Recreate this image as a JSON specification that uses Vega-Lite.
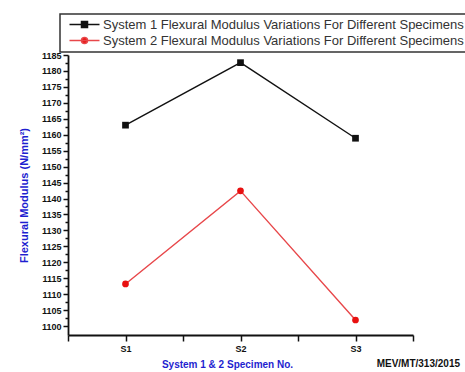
{
  "$schema": "https://vega.github.io/schema/vega-lite/v6.json",
  "width": 345,
  "height": 280,
  "autosize": "none",
  "padding": {"left": 68, "top": 55, "right": 52, "bottom": 37},
  "background": "white",
  "title": {
    "text": "MEV/MT/313/2015",
    "orient": "bottom",
    "anchor": "end",
    "frame": "group",
    "offset": -10,
    "fontSize": 10,
    "font": "Liberation Sans",
    "fontWeight": "bold",
    "color": "#111",
    "dx": 47
  },
  "data": {
    "values": [
      {"series": "System 1 Flexural Modulus Variations For Different Specimens", "specimen": 1, "modulus": 1163.0},
      {"series": "System 1 Flexural Modulus Variations For Different Specimens", "specimen": 2, "modulus": 1182.6},
      {"series": "System 1 Flexural Modulus Variations For Different Specimens", "specimen": 3, "modulus": 1158.9},
      {"series": "System 2 Flexural Modulus Variations For Different Specimens", "specimen": 1, "modulus": 1113.2},
      {"series": "System 2 Flexural Modulus Variations For Different Specimens", "specimen": 2, "modulus": 1142.4},
      {"series": "System 2 Flexural Modulus Variations For Different Specimens", "specimen": 3, "modulus": 1101.9}
    ]
  },
  "encoding": {
    "x": {
      "field": "specimen",
      "type": "quantitative",
      "scale": {"domain": [0.5, 3.5], "nice": false, "zero": false},
      "axis": {
        "title": "System 1 & 2 Specimen No.",
        "titleX": 159,
        "values": [0.5, 1, 1.5, 2, 2.5, 3, 3.5],
        "labelExpr": "datum.value % 1 === 0 ? 'S' + datum.value : ''",
        "grid": false,
        "domainColor": "#111",
        "domainWidth": 1.8,
        "tickColor": "#111",
        "tickWidth": 1.5,
        "tickSize": 6,
        "labelFont": "Liberation Sans",
        "labelFontWeight": "bold",
        "labelFontSize": 9,
        "labelColor": "#111",
        "labelPadding": 3,
        "titleFont": "Liberation Sans",
        "titleFontWeight": "bold",
        "titleFontSize": 10,
        "titleColor": "#1f1fd0",
        "titlePadding": 6
      }
    },
    "y": {
      "field": "modulus",
      "type": "quantitative",
      "scale": {"domain": [1097.2, 1185], "nice": false, "zero": false},
      "axis": {
        "title": "Flexural Modulus (N/mm²)",
        "values": [1100, 1102.5, 1105, 1107.5, 1110, 1112.5, 1115, 1117.5, 1120, 1122.5, 1125, 1127.5, 1130, 1132.5, 1135, 1137.5, 1140, 1142.5, 1145, 1147.5, 1150, 1152.5, 1155, 1157.5, 1160, 1162.5, 1165, 1167.5, 1170, 1172.5, 1175, 1177.5, 1180, 1182.5, 1185],
        "labelExpr": "datum.value % 5 === 0 ? datum.value : ''",
        "tickSize": {"condition": {"test": "datum.value % 5 === 0", "value": 5}, "value": 3},
        "grid": false,
        "domainColor": "#111",
        "domainWidth": 1.8,
        "tickColor": "#111",
        "tickWidth": 1.5,
        "labelFont": "Liberation Sans",
        "labelFontWeight": "bold",
        "labelFontSize": 9,
        "labelColor": "#111",
        "labelPadding": 2,
        "titleFont": "Liberation Sans",
        "titleFontWeight": "bold",
        "titleFontSize": 11,
        "titleColor": "#1f1fd0",
        "titlePadding": 12
      }
    },
    "color": {
      "field": "series",
      "type": "nominal",
      "scale": {"range": ["#111111", "#e8474a"]},
      "legend": {
        "title": null,
        "orient": "none",
        "legendX": -8,
        "legendY": -41,
        "direction": "vertical",
        "strokeColor": "#333",
        "fillColor": "white",
        "padding": 4,
        "rowPadding": 2,
        "symbolSize": 36,
        "symbolOffset": 14,
        "labelOffset": 12,
        "labelFont": "Liberation Sans",
        "labelFontSize": 13,
        "labelColor": "#333",
        "labelLimit": 0,
        "encode": {
          "legend": {"update": {"strokeWidth": {"value": 1.5}}},
          "symbols": {
            "update": {
              "shape": {"signal": "datum.index === 0 ? 'M-5,0H5M-1,-1H1V1H-1Z' : 'M-5,0H5M1,0A1,1,0,1,1,-1,0A1,1,0,1,1,1,0Z'"},
              "fill": {"signal": "datum.index === 0 ? '#111111' : '#e81010'"},
              "stroke": {"signal": "datum.index === 0 ? '#111111' : '#e8474a'"},
              "strokeWidth": {"value": 1.5},
              "opacity": {"value": 1},
              "fillOpacity": {"value": 1}
            }
          }
        }
      }
    }
  },
  "layer": [
    {"mark": {"type": "line", "strokeWidth": 1.4}},
    {
      "mark": {"type": "point", "filled": true, "opacity": 1, "size": 45},
      "encoding": {
        "shape": {
          "field": "series",
          "type": "nominal",
          "scale": {"range": ["square", "circle"]},
          "legend": null
        },
        "color": {
          "field": "series",
          "type": "nominal",
          "scale": {"range": ["#111111", "#e81010"]},
          "legend": null
        }
      }
    }
  ],
  "resolve": {"scale": {"color": "independent"}},
  "config": {"view": {"stroke": null}}
}
